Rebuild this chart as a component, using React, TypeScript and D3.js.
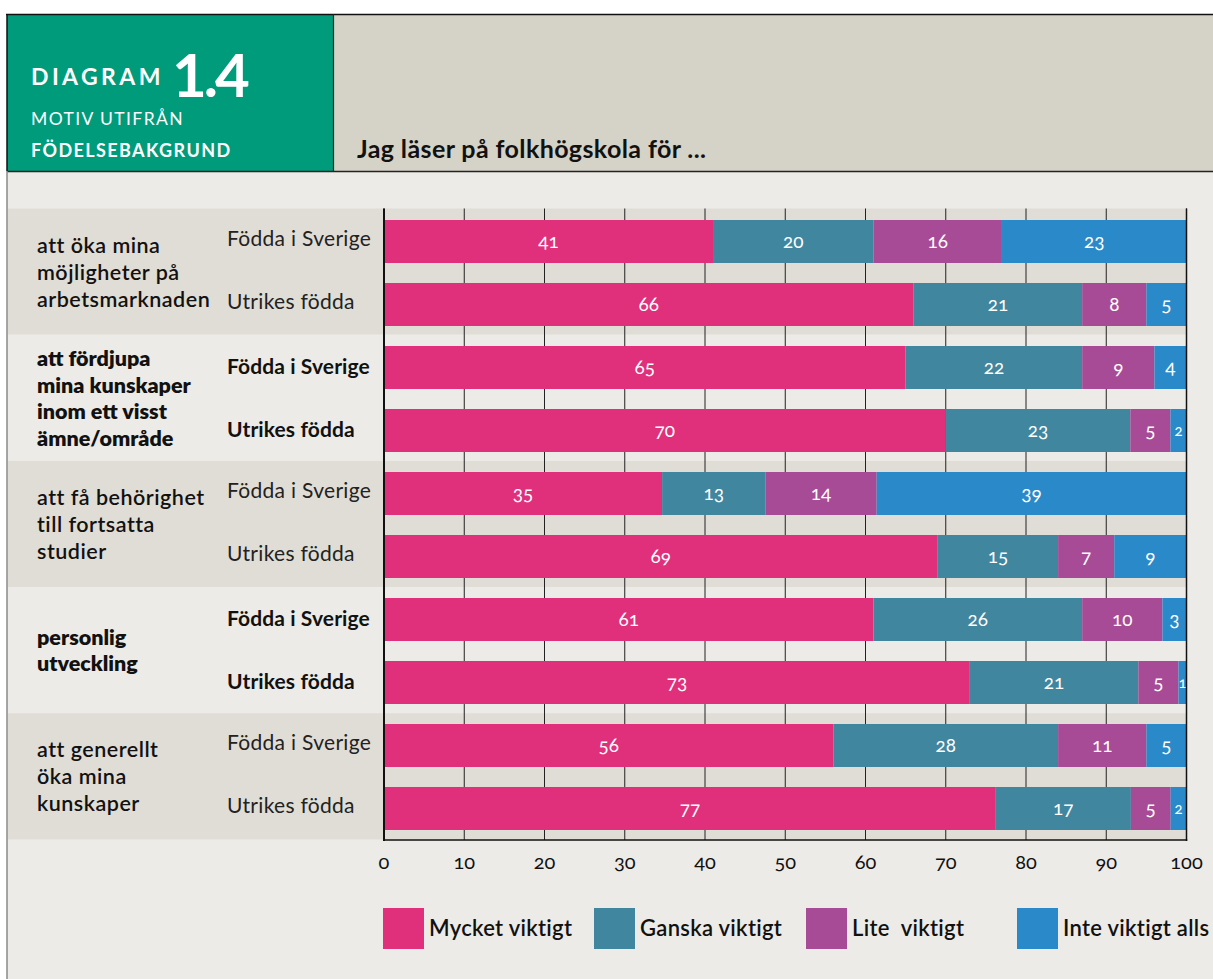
import React from "react";
import * as d3 from "d3";

// ---------- data ----------
const groupIds = ["g1", "g2", "g3", "g4", "g5"];
const groupLabelLines: string[][] = [
  ["att öka mina", "möjligheter på", "arbetsmarknaden"],
  ["att fördjupa", "mina kunskaper", "inom ett visst", "ämne/område"],
  ["att få behörighet", "till fortsatta", "studier"],
  ["personlig", "utveckling"],
  ["att generellt", "öka mina", "kunskaper"],
];
const origins = ["Födda i Sverige", "Utrikes födda"];
const seriesNames = ["Mycket viktigt", "Ganska viktigt", "Lite  viktigt", "Inte viktigt alls"];
const mycketViktigt = [41, 66, 65, 70, 35, 69, 61, 73, 56, 77];
const ganskaViktigt = [20, 21, 22, 23, 13, 15, 26, 21, 28, 17];
const liteViktigt = [16, 8, 9, 5, 14, 7, 10, 5, 11, 5];
const inteViktigt = [23, 5, 4, 2, 39, 9, 3, 1, 5, 2];
const xTicks = [0, 10, 20, 30, 40, 50, 60, 70, 80, 90, 100];

// ---------- style ----------
const COLORS = ["#e0307b", "#41869f", "#a84b96", "#2a89c8"];
const BOLD_GROUP = [false, true, false, true, false];
const FONT = "Lato, 'Open Sans', sans-serif";

const W = 1213;
const H = 979;

export default function App() {
  const rows = groupIds.flatMap((g, gi) =>
    origins.map((o, oi) => ({ id: `${g}-${oi}`, group: gi, origin: o, idx: gi * 2 + oi }))
  );
  const table = rows.map((r) => ({
    id: r.id,
    [seriesNames[0]]: mycketViktigt[r.idx],
    [seriesNames[1]]: ganskaViktigt[r.idx],
    [seriesNames[2]]: liteViktigt[r.idx],
    [seriesNames[3]]: inteViktigt[r.idx],
  }));
  const stacked = d3
    .stack<any>()
    .keys(seriesNames)
    .offset(d3.stackOffsetExpand)(table);

  const x = d3.scaleLinear().domain([0, 100]).range([384, 1186.5]);
  const y = d3
    .scaleBand<string>()
    .domain(rows.map((r) => r.id))
    .range([210, 840])
    .paddingInner(0.3175)
    .paddingOuter(0.15875);
  const gy = d3.scaleBand<string>().domain(groupIds).range([208.5, 839.5]);

  const plotTop = 208.5;
  const plotBottom = 840;

  return (
    <svg
      width={W}
      height={H}
      style={{ position: "absolute", left: 0, top: 0, fontFamily: FONT }}
    >
      {/* backgrounds */}
      <rect x={0} y={0} width={W} height={H} fill="#ffffff" />
      <rect x={7} y={14} width={W - 7} height={H - 14} fill="#edebe7" />
      <rect x={7} y={14} width={326} height={157} fill="#009b7b" />
      <rect x={333} y={14} width={W - 333} height={157} fill="#d5d2c7" />
      <line x1={6} x2={W} y1={14.5} y2={14.5} stroke="#111" strokeWidth={1.5} />
      <line x1={7} x2={W} y1={171.5} y2={171.5} stroke="#222" strokeWidth={1.5} />
      <line x1={333.5} x2={333.5} y1={14} y2={171} stroke="#222" strokeWidth={1.2} />
      <line x1={7} x2={7} y1={14} y2={171} stroke="#111" strokeWidth={1.5} />
      <line x1={7} x2={7} y1={171} y2={H} stroke="#8a8a8a" strokeWidth={1.5} />

      {/* header text */}
      <text x={31} y={85} fill="#fff" fontSize={23} fontWeight={700} letterSpacing={3.4}>
        DIAGRAM
      </text>
      <text x={172} y={97} fill="#fff" fontSize={60} fontWeight={700} letterSpacing={-3}>
        1.4
      </text>
      <text x={31} y={125} fill="#fff" fontSize={17.5} fontWeight={400} letterSpacing={1.4}>
        MOTIV UTIFRÅN
      </text>
      <text x={31} y={157} fill="#fff" fontSize={18} fontWeight={700} letterSpacing={1.4}>
        FÖDELSEBAKGRUND
      </text>
      <text x={357} y={158} fill="#111" fontSize={25} fontWeight={700} letterSpacing={0.4}>
        Jag läser på folkhögskola för ...
      </text>

      {/* group bands */}
      {groupIds.map((g, gi) => (
        <rect
          key={g}
          x={8}
          y={gy(g)!}
          width={x(100) - 8}
          height={gy.bandwidth()}
          fill={gi % 2 === 0 ? "#e0ddd6" : "#edebe7"}
        />
      ))}

      {/* gridlines */}
      {xTicks.map((t) => (
        <line
          key={t}
          x1={x(t)}
          x2={x(t)}
          y1={plotTop}
          y2={plotBottom}
          stroke="#222"
          strokeWidth={1}
        />
      ))}

      {/* bars */}
      {stacked.map((s, si) =>
        s.map((d, ri) => {
          const x0 = x(d[0] * 100);
          const x1 = x(d[1] * 100);
          const val = (table[ri] as any)[s.key] as number;
          const small = val <= 2;
          return (
            <g key={`${s.key}-${ri}`}>
              <rect
                x={x0}
                y={y(rows[ri].id)!}
                width={x1 - x0}
                height={y.bandwidth()}
                fill={COLORS[si]}
              />
              <text
                x={(x0 + x1) / 2}
                y={y(rows[ri].id)! + y.bandwidth() / 2 + (small ? 5 : 6.5)}
                textAnchor="middle"
                fill="#fff"
                fontSize={small ? 15 : 19}
                style={{ fontVariantNumeric: "oldstyle-nums" }}
              >
                {val}
              </text>
            </g>
          );
        })
      )}

      {/* axis frame */}
      <line x1={384} x2={384} y1={plotTop} y2={plotBottom + 1} stroke="#111" strokeWidth={2} />
      <line x1={x(100)} x2={x(100)} y1={plotTop} y2={plotBottom + 1} stroke="#111" strokeWidth={1.5} />
      <line x1={383} x2={x(100) + 0.75} y1={plotBottom} y2={plotBottom} stroke="#111" strokeWidth={1.5} />

      {/* x tick labels */}
      {xTicks.map((t) => (
        <text
          key={t}
          x={x(t)}
          y={869}
          textAnchor="middle"
          fill="#111"
          fontSize={20}
          style={{ fontVariantNumeric: "oldstyle-nums" }}
        >
          {t}
        </text>
      ))}

      {/* group labels */}
      {groupLabelLines.map((lines, gi) => {
        const cy = gy(groupIds[gi])! + gy.bandwidth() / 2;
        const lh = BOLD_GROUP[gi] ? 26.5 : 27;
        const start = cy + 8 - ((lines.length - 1) * lh) / 2;
        return (
          <text
            key={gi}
            x={37}
            fill="#111"
            fontSize={21.5}
            fontWeight={BOLD_GROUP[gi] ? 800 : 600}
            letterSpacing={BOLD_GROUP[gi] ? 0 : 0.5}
          >
            {lines.map((l, li) => (
              <tspan key={li} x={37} y={start + li * lh}>
                {l}
              </tspan>
            ))}
          </text>
        );
      })}

      {/* row labels */}
      {rows.map((r) => (
        <text
          key={r.id}
          x={227}
          y={y(r.id)! + y.bandwidth() / 2 + (BOLD_GROUP[r.group] ? 6 : 4)}
          fill={BOLD_GROUP[r.group] ? "#111" : "#222"}
          fontSize={21}
          fontWeight={BOLD_GROUP[r.group] ? 700 : 400}
          letterSpacing={BOLD_GROUP[r.group] ? 0.1 : 0.3}
        >
          {r.origin}
        </text>
      ))}

      {/* legend */}
      {seriesNames.map((name, i) => {
        const lx = [383, 594, 806, 1017][i];
        return (
          <g key={name}>
            <rect x={lx} y={908} width={41} height={41} fill={COLORS[i]} />
            <text
              x={lx + 46}
              y={936}
              fill="#111"
              fontSize={22}
              fontWeight={600}
              letterSpacing={0.3}
              style={{ whiteSpace: "pre" }}
            >
              {name}
            </text>
          </g>
        );
      })}
    </svg>
  );
}
